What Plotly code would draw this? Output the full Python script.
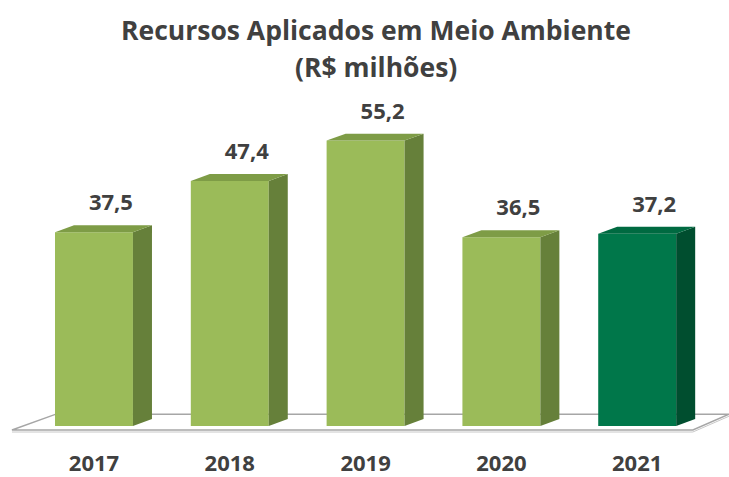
import plotly.graph_objects as go

# data
years = ["2017", "2018", "2019", "2020", "2021"]
values = [37.5, 47.4, 55.2, 36.5, 37.2]
front_colors = ["#9BBB59", "#9BBB59", "#9BBB59", "#9BBB59", "#00774A"]
side_colors = ["#66803A", "#66803A", "#66803A", "#66803A", "#004E2F"]
top_colors = ["#7E9C46", "#7E9C46", "#7E9C46", "#7E9C46", "#006A41"]
title_lines = ["Recursos Aplicados em Meio Ambiente", "(R$ milhões)"]

# fake 3d geometry (axis units)
BAR_W = 0.574
DX = 0.14
DY = 1.35
TEXT_COLOR = "#404040"
FONT = "Open Sans"

xs = list(range(len(years)))

fig = go.Figure()

# floor slab, drawn under the traces
fig.add_shape(
    type="path", layer="below",
    path="M -0.604,-0.77 L 4.41,-0.77 L 4.676,2.3 L -0.28,2.3 Z",
    xref="x", yref="y", fillcolor="#FFFFFF",
    line=dict(color="#A6A6A6", width=1.5)
)
fig.add_shape(
    type="path", layer="below",
    path="M -0.604,-1.15 L 4.41,-1.15 L 4.676,1.9",
    xref="x", yref="y", line=dict(color="#C8C8C8", width=1)
)

# front faces
fig.add_trace(go.Bar(
    x=xs, y=values, width=BAR_W,
    marker=dict(color=front_colors, line=dict(width=0)),
    hoverinfo="skip", showlegend=False
))

# side and top faces
for x, v, sc, tc in zip(xs, values, side_colors, top_colors):
    r = x + BAR_W / 2
    l = x - BAR_W / 2
    fig.add_trace(go.Scatter(
        x=[r, r + DX, r + DX, r, r], y=[0, DY, v + DY, v, 0],
        mode="lines", fill="toself", fillcolor=sc, line=dict(width=0, color=sc),
        hoverinfo="skip", showlegend=False
    ))
    fig.add_trace(go.Scatter(
        x=[l, l + DX, r + DX, r, l], y=[v, v + DY, v + DY, v, v],
        mode="lines", fill="toself", fillcolor=tc, line=dict(width=0, color=tc),
        hoverinfo="skip", showlegend=False
    ))

# value labels
fig.add_trace(go.Scatter(
    x=[x + 0.125 for x in xs], y=[v + 5.3 for v in values], mode="text",
    text=[f"{v:.1f}".replace(".", ",") for v in values],
    textposition="middle center",
    textfont=dict(family=FONT, size=22, color=TEXT_COLOR, weight="bold"),
    hoverinfo="skip", showlegend=False
))

# two-line title
for txt, yy in zip(title_lines, [1.139, 1.036]):
    fig.add_annotation(
        text=f"<b>{txt}</b>", xref="paper", yref="paper",
        x=0.516, y=yy, xanchor="center", yanchor="middle", showarrow=False,
        font=dict(family=FONT, size=26.5, color=TEXT_COLOR)
    )

fig.update_layout(
    width=729, height=477,
    margin=dict(l=0, r=0, t=80, b=37),
    plot_bgcolor="white", paper_bgcolor="white",
    xaxis=dict(
        range=[-0.692, 4.676], tickmode="array", tickvals=xs, ticktext=years,
        showgrid=False, zeroline=False, showline=False,
        ticks="outside", ticklen=6, tickcolor="rgba(0,0,0,0)",
        tickfont=dict(family=FONT, size=22, color=TEXT_COLOR, weight="bold")
    ),
    yaxis=dict(
        range=[-2.31, 66.92], showgrid=False, zeroline=False,
        showline=False, showticklabels=False
    ),
)

# drop the default page margin so the figure fills the window
fig.write_html(
    "out.html",
    config={"displayModeBar": False},
    post_script="document.body.style.margin='0';",
)
